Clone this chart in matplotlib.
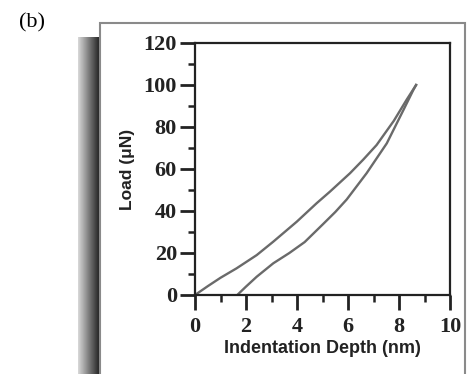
import numpy as np
import matplotlib.pyplot as plt
from matplotlib.patches import Rectangle
from matplotlib.ticker import MultipleLocator

# loading branch (depth nm, load uN)
load_depth = [0.0, 0.5, 1.0, 1.63, 2.42, 3.07, 3.99, 4.77, 5.29, 6.08, 6.6, 7.12, 7.8, 8.3, 8.67]
load_force = [0.0, 4.2, 8.2, 12.7, 19.0, 25.4, 34.9, 43.7, 49.2, 58.0, 64.5, 71.4, 83.0, 93.0, 100.0]

# unloading branch
unload_depth = [8.67, 8.56, 8.17, 7.52, 6.73, 5.95, 5.5, 5.0, 4.3, 3.7, 3.07, 2.42, 2.0, 1.7]
unload_force = [100.0, 97.6, 88.0, 72.2, 58.0, 45.5, 39.5, 33.5, 25.2, 20.0, 15.1, 8.7, 4.0, 0.5]

x_ticks = [0, 2, 4, 6, 8, 10]
y_ticks = [0, 20, 40, 60, 80, 100, 120]

W, H = 470, 374
fig = plt.figure(figsize=(W / 100, H / 100), dpi=100)
fig.patch.set_facecolor("white")

# panel frame (open at the bottom) and the dark shadow strip on its left
fig.patches.append(Rectangle((100 / W, -0.05), 365 / W, 1.05 - 23 / H, transform=fig.transFigure,
                             fill=False, edgecolor="#8a8a8a", lw=1.5))
bg = fig.add_axes([78 / W, 0, 22 / W, 1 - 37 / H])
grad = np.linspace(0.85, 0.12, 64)[None, :]
bg.imshow(grad, cmap="gray", vmin=0, vmax=1, aspect="auto", extent=[0, 1, 0, 1])
bg.axis("off")

fig.text(19 / W, 1 - 23 / H, "(b)", family="Liberation Serif", fontsize=16,
         ha="left", va="center")

ax = fig.add_axes([195 / W, 1 - 295 / H, 255 / W, 252 / H])
ax.plot(load_depth, load_force, color="#6a6a6a", lw=1.7)
ax.plot(unload_depth, unload_force, color="#6a6a6a", lw=1.7)

ax.set_xlim(0, 10)
ax.set_ylim(0, 120)
ax.set_xticks(x_ticks)
ax.set_yticks(y_ticks)
ax.xaxis.set_minor_locator(MultipleLocator(1))
ax.yaxis.set_minor_locator(MultipleLocator(10))
ax.tick_params(which="major", direction="out", length=11, width=2, color="#222222")
ax.tick_params(which="minor", direction="out", length=5, width=1.8, color="#222222")
ax.tick_params(axis="y", pad=2)
ax.tick_params(axis="x", pad=5)
for lab in ax.get_xticklabels() + ax.get_yticklabels():
    lab.set_family("Liberation Serif")
    lab.set_fontweight("bold")
    lab.set_fontsize(16)
    lab.set_color("#222222")
for s in ax.spines.values():
    s.set_linewidth(1.6)
    s.set_color("#222222")

ax.set_xlabel("Indentation Depth (nm)", family="Liberation Sans", fontweight="bold",
              fontsize=13, color="#222222", labelpad=2)
ax.set_ylabel("Load (\u03bcN)", family="Liberation Sans", fontweight="bold",
              fontsize=12.5, color="#222222", labelpad=6)

fig.savefig("out.png", dpi=100)
